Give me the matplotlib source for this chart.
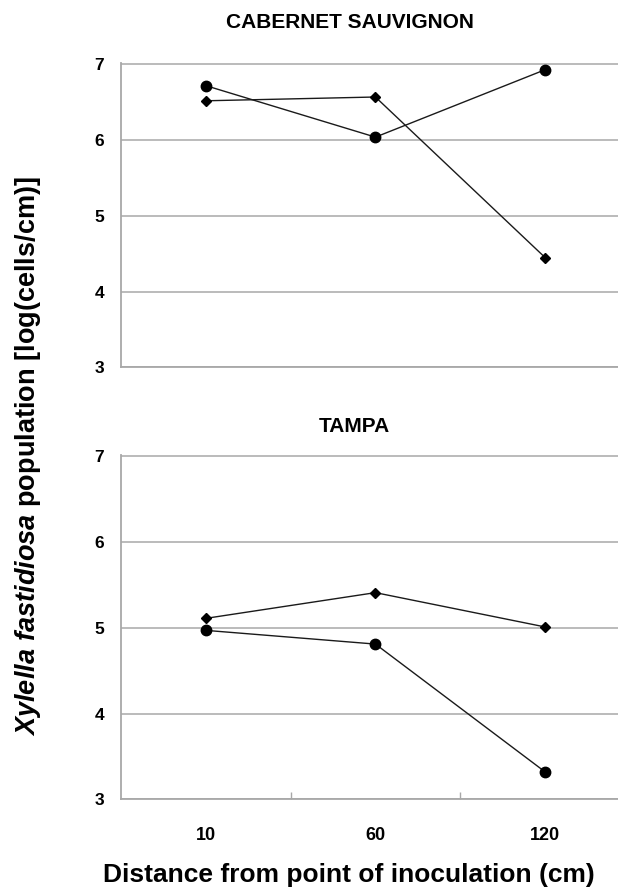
import matplotlib
matplotlib.use('Agg')
import matplotlib.pyplot as plt

plt.rcParams['font.family'] = ['Liberation Sans', 'DejaVu Sans']
plt.rcParams['font.weight'] = 'bold'
plt.rcParams['mathtext.fontset'] = 'custom'
plt.rcParams['mathtext.it'] = 'Liberation Sans:italic:bold'
plt.rcParams['mathtext.rm'] = 'Liberation Sans:bold'

# data
distances = ['10', '60', '120']
yticks = [3, 4, 5, 6, 7]

cab_circle = [6.72, 6.04, 6.93]
cab_diamond = [6.52, 6.57, 4.45]

tampa_circle = [4.97, 4.81, 3.32]
tampa_diamond = [5.11, 5.41, 5.01]

grid_col = '#a8a8a8'
line_col = '#1a1a1a'

fig = plt.figure(figsize=(6.18, 8.88), dpi=100)
ax1 = fig.add_axes([121/618, 0.5864, 497/618, 0.3423])
ax2 = fig.add_axes([121/618, 0.0999, 497/618, 0.3877])

x = list(range(len(distances)))

for ax, circ, diam in [(ax1, cab_circle, cab_diamond), (ax2, tampa_circle, tampa_diamond)]:
    ax.plot(x, diam, color=line_col, lw=1.0, marker='D', ms=5.5,
            mfc='black', mec='black', zorder=3)
    ax.plot(x, circ, color=line_col, lw=1.0, marker='o', ms=7.5,
            mfc='black', mec='black', zorder=3)
    ax.set_xlim(-0.5, 2.43)
    ax.set_ylim(3, 7.015)
    ax.set_yticks(yticks)
    ax.set_yticklabels([str(v) for v in yticks], fontsize=12.5, fontweight='bold')
    ax.tick_params(axis='y', length=0, pad=12)
    ax.yaxis.grid(True, color=grid_col, lw=1.1)
    ax.set_axisbelow(True)
    for s in ['top', 'right']:
        ax.spines[s].set_visible(False)
    for s in ['left', 'bottom']:
        ax.spines[s].set_color(grid_col)
        ax.spines[s].set_linewidth(1.3)

# top panel: no x ticks
ax1.set_xticks([])

# bottom panel: labels at categories, small ticks between
ax2.set_xticks(x)
ax2.set_xticklabels(distances, fontsize=13, fontweight='bold')
ax2.tick_params(axis='x', which='major', length=0, pad=20)
ax2.set_xticks([0.5, 1.5], minor=True)
ax2.tick_params(axis='x', which='minor', direction='in', length=5,
                color=grid_col, width=1)

fig.text(350/618, 1 - 22/888, 'CABERNET SAUVIGNON', ha='center', va='center',
         fontsize=15, fontweight='bold')
fig.text(354/618, 1 - 427/888, 'TAMPA', ha='center', va='center',
         fontsize=15, fontweight='bold')

fig.text(349/618, 1 - 875/888, 'Distance from point of inoculation (cm)',
         ha='center', va='center', fontsize=19, fontweight='bold')
fig.text(28/618, 1 - 456/888,
         r'$Xylella\ fastidiosa$ population [log(cells/cm)]',
         ha='center', va='center', rotation=90, fontsize=19.5, fontweight='bold')

fig.savefig('out.png', dpi=100)
